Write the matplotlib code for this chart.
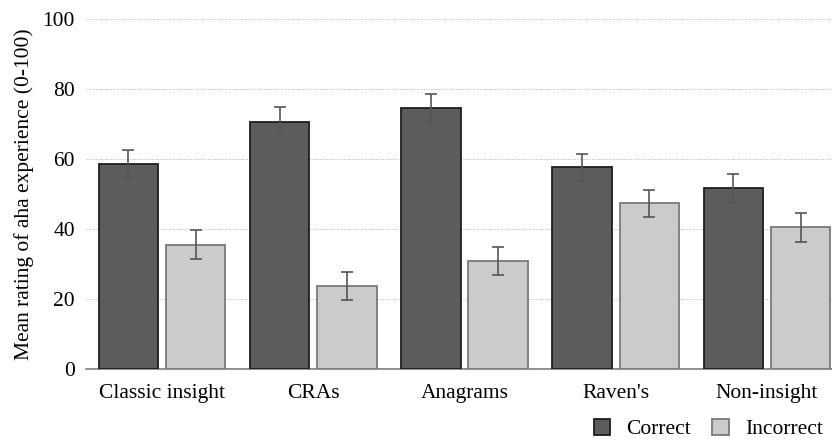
import matplotlib
matplotlib.use("Agg")
import matplotlib.pyplot as plt
import numpy as np

categories = ["Classic insight", "CRAs", "Anagrams", "Raven's", "Non-insight"]
correct = [58.7, 70.8, 74.8, 57.7, 51.8]
correct_err = [3.9, 4.1, 4.0, 3.9, 4.1]
incorrect = [35.6, 23.7, 30.8, 47.4, 40.5]
incorrect_err = [4.1, 4.0, 4.0, 3.9, 4.1]
yticks = [0, 20, 40, 60, 80, 100]

plt.rcParams['font.family'] = ['Liberation Serif', 'DejaVu Serif']
FS = 15.5

fig = plt.figure(figsize=(8.32, 4.41), dpi=100)
ax = fig.add_axes([0.1034, 0.1633, 0.8966, 0.7925])

x = np.arange(len(categories))
w = 0.393
off = 0.222
ekw = dict(ecolor='#555555', elinewidth=1.2, capsize=4, capthick=1.2)
ax.bar(x - off, correct, w, yerr=correct_err, color='#5c5c5c', edgecolor='#1e1e1e',
       linewidth=1.3, error_kw=ekw, label='Correct', zorder=3)
ax.bar(x + off, incorrect, w, yerr=incorrect_err, color='#cbcbcb', edgecolor='#7a7a7a',
       linewidth=1.3, error_kw=ekw, label='Incorrect', zorder=3)

ax.set_xlim(-0.502, 4.43)
ax.set_ylim(0, 100)
ax.set_yticks(yticks)
ax.set_xticks(x)
ax.set_xticklabels(categories, fontsize=FS)
ax.tick_params(axis='y', labelsize=FS, length=0, pad=8)
ax.tick_params(axis='x', length=0, pad=11)
for s in ['top', 'right', 'left']:
    ax.spines[s].set_visible(False)
ax.spines['bottom'].set_color('#888888')
ax.spines['bottom'].set_linewidth(1.3)
ax.yaxis.grid(True, linestyle=(0, (1, 1.5)), color='#b4b4b4', linewidth=0.7, zorder=0)
ax.set_axisbelow(True)
ax.set_ylabel('Mean rating of aha experience (0-100)', fontsize=FS, labelpad=6)

fig.legend(loc='lower right', bbox_to_anchor=(1.012, -0.04), ncol=2, frameon=False,
           fontsize=FS, handlelength=0.75, handleheight=0.75, handletextpad=0.75,
           columnspacing=1.0)

fig.savefig('out.png', dpi=100)
